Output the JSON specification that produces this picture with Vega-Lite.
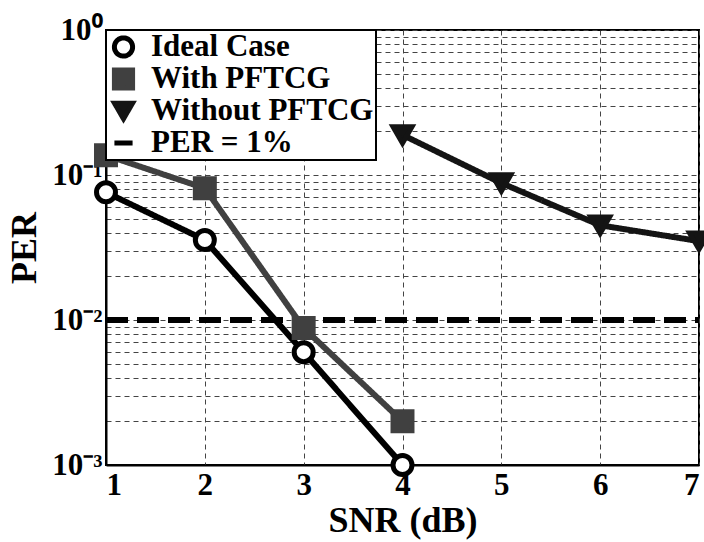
{
  "$schema": "https://vega.github.io/schema/vega-lite/v6.json",
  "width": 593,
  "height": 435,
  "autosize": {"type": "none"},
  "padding": {"left": 106, "top": 30, "right": 5, "bottom": 77},
  "background": "white",
  "config": {
    "font": "Liberation Serif",
    "view": {"stroke": "black", "strokeWidth": 2},
    "axis": {
      "labelFont": "Liberation Serif",
      "labelFontWeight": "bold",
      "labelFontSize": 31,
      "labelColor": "black",
      "titleFont": "Liberation Serif",
      "titleFontWeight": "bold",
      "titleFontSize": 36,
      "titleColor": "black",
      "grid": true,
      "gridColor": "#444444",
      "gridDash": [5, 4],
      "gridWidth": 1,
      "gridOpacity": 1,
      "ticks": false,
      "domainColor": "black",
      "domainWidth": 2
    },
    "legend": {
      "orient": "top-left",
      "offset": 0,
      "fillColor": "white",
      "strokeColor": "black",
      "strokeWidth": 2,
      "padding": 2,
      "labelFont": "Liberation Serif",
      "labelFontWeight": "bold",
      "labelFontSize": 31,
      "labelColor": "black",
      "labelLimit": 400,
      "symbolSize": 330,
      "symbolStrokeWidth": 5,
      "rowPadding": 1,
      "clipHeight": 30,
      "labelOffset": 12
    }
  },
  "data": {
    "values": [
      {"snr": 1, "per": 0.076, "series": "Ideal Case"},
      {"snr": 2, "per": 0.0356, "series": "Ideal Case"},
      {"snr": 3, "per": 0.006, "series": "Ideal Case"},
      {"snr": 4, "per": 0.001, "series": "Ideal Case"},
      {"snr": 1, "per": 0.137, "series": "With PFTCG"},
      {"snr": 2, "per": 0.081, "series": "With PFTCG"},
      {"snr": 3, "per": 0.0088, "series": "With PFTCG"},
      {"snr": 4, "per": 0.002, "series": "With PFTCG"},
      {"snr": 4, "per": 0.189, "series": "Without PFTCG"},
      {"snr": 5, "per": 0.088, "series": "Without PFTCG"},
      {"snr": 6, "per": 0.045, "series": "Without PFTCG"},
      {"snr": 7, "per": 0.035, "series": "Without PFTCG"},
      {"snr": 1, "per": 0.01, "series": "PER = 1%"},
      {"snr": 7, "per": 0.01, "series": "PER = 1%"}
    ]
  },
  "encoding": {
    "x": {
      "field": "snr",
      "type": "quantitative",
      "scale": {"domain": [1, 7], "nice": false, "zero": false},
      "axis": {"values": [1, 2, 3, 4, 5, 6, 7], "title": "SNR (dB)", "labelPadding": 5, "titlePadding": 3}
    },
    "y": {
      "field": "per",
      "type": "quantitative",
      "scale": {"type": "log", "domain": [0.001, 1], "nice": false},
      "axis": {
        "title": "PER",
        "titlePadding": 8,
        "labelPadding": 4,
        "values": [0.001, 0.002, 0.003, 0.004, 0.005, 0.006, 0.007, 0.008, 0.009, 0.01, 0.02, 0.03, 0.04, 0.05, 0.06, 0.07, 0.08, 0.09, 0.1, 0.2, 0.3, 0.4, 0.5, 0.6, 0.7, 0.8, 0.9, 1],
        "labelExpr": "datum.value == 1 ? '10⁰' : datum.value == 0.1 ? '10⁻¹' : datum.value == 0.01 ? '10⁻²' : datum.value == 0.001 ? '10⁻³' : ''"
      }
    }
  },
  "layer": [
    {
      "mark": {"type": "line", "strokeWidth": 6},
      "encoding": {
        "stroke": {
          "field": "series",
          "type": "nominal",
          "title": null,
          "sort": ["Ideal Case", "With PFTCG", "Without PFTCG", "PER = 1%"],
          "scale": {"domain": ["Ideal Case", "With PFTCG", "Without PFTCG", "PER = 1%"], "range": ["#000000", "#404040", "#141414", "#000000"]}
        },
        "strokeDash": {
          "field": "series",
          "type": "nominal",
          "title": null,
          "sort": ["Ideal Case", "With PFTCG", "Without PFTCG", "PER = 1%"],
          "scale": {"domain": ["Ideal Case", "With PFTCG", "Without PFTCG", "PER = 1%"], "range": [[1, 0], [1, 0], [1, 0], [22, 9]]}
        }
      }
    },
    {
      "transform": [{"filter": "datum.series != 'PER = 1%'"}],
      "mark": {"type": "point", "filled": false, "strokeWidth": 5, "size": 360, "opacity": 1},
      "encoding": {
        "stroke": {"field": "series", "type": "nominal", "title": null, "sort": ["Ideal Case", "With PFTCG", "Without PFTCG", "PER = 1%"]},
        "fill": {
          "field": "series",
          "type": "nominal",
          "title": null,
          "sort": ["Ideal Case", "With PFTCG", "Without PFTCG", "PER = 1%"],
          "scale": {"domain": ["Ideal Case", "With PFTCG", "Without PFTCG", "PER = 1%"], "range": ["#ffffff", "#404040", "#141414", "#000000"]}
        },
        "shape": {
          "field": "series",
          "type": "nominal",
          "title": null,
          "sort": ["Ideal Case", "With PFTCG", "Without PFTCG", "PER = 1%"],
          "scale": {"domain": ["Ideal Case", "With PFTCG", "Without PFTCG", "PER = 1%"], "range": ["circle", "square", "triangle-down", "stroke"]}
        }
      }
    }
  ]
}
